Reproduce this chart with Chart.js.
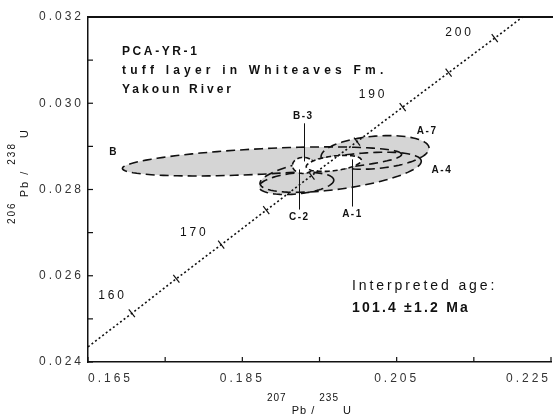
<!DOCTYPE html>
<html>
<head>
<meta charset="utf-8">
<script src="https://cdn.jsdelivr.net/npm/chart.js@4.4.0/dist/chart.umd.min.js"></script>
<style>
  html, body { margin: 0; padding: 0; background: #fff; overflow: hidden; }
  #wrap { width: 560px; height: 417px; }
</style>
</head>
<body>
<div id="wrap"><canvas id="c"></canvas></div>
<script>
// concordia (age in Ma, 207Pb/235U, 206Pb/238U)
const concAges = [155.1, 160, 165, 170, 175, 180, 185, 190, 195, 200, 203.0];
const concX = [0.1650, 0.17068, 0.17645, 0.18226, 0.18810, 0.19396, 0.19986, 0.20578, 0.21173, 0.21771, 0.22131];
const concY = [0.02435, 0.02513, 0.02593, 0.02672, 0.02752, 0.02832, 0.02911, 0.02991, 0.03071, 0.03151, 0.03200];
const tickAges = [160, 165, 170, 175, 180, 185, 190, 195, 200];
const labelAges = ['160', '170', '190', '200'];

// analysed spots: centre, half-widths, error correlation
const spotNames = ['B', 'A-7', 'A-4', 'C-2', 'B-3', 'A-1'];
const spotX   = [0.18755, 0.20220, 0.19774, 0.19201, 0.19290, 0.19685];
const spotY   = [0.028651, 0.028860, 0.028400, 0.028140, 0.028558, 0.028605];
const spotSx  = [0.01809, 0.00700, 0.01045, 0.00484, 0.00140, 0.00357];
const spotSy  = [0.000337, 0.000390, 0.000465, 0.000256, 0.000186, 0.000186];
const spotRho = [0.48, 0.25, 0.55, 0.30, 0.0, 0.40];

// axes
const xTicks = [0.165, 0.175, 0.185, 0.195, 0.205, 0.215, 0.225];
const xTickLabels = ['0.165', '', '0.185', '', '0.205', '', '0.225'];
const yTicks = [0.024, 0.025, 0.026, 0.027, 0.028, 0.029, 0.030, 0.031, 0.032];
const yTickLabels = ['0.024', '', '0.026', '', '0.028', '', '0.030', '', '0.032'];

const whiteSpots = ['B-3', 'A-1'];
const ageLabelPos = { '160': [0.16818, 0.025535], '170': [0.17876, 0.0270], '190': [0.20194, 0.030209], '200': [0.21315, 0.031628] };
const spotLabelPos = { 'B': [0.16831, 0.02886], 'B-3': [0.19290, 0.029698], 'A-7': [0.20895, 0.029349],
                       'A-4': [0.21086, 0.028442], 'A-1': [0.19927, 0.027419], 'C-2': [0.19239, 0.027349] };
const leaders = [[0.19303, 0.029535, 0.028651], [0.19927, 0.028698, 0.027605], [0.19239, 0.028465, 0.027535]];

function txt(ctx, s, x, y, font, sp, align) {
  ctx.font = font;
  ctx.letterSpacing = sp + 'px';
  ctx.textAlign = align || 'left';
  ctx.fillText(s, x, y);
  return ctx.measureText(s).width;
}

function ellipsePath(ctx, xs, ys, i) {
  const r = spotRho[i], q = Math.sqrt(1 - r * r);
  ctx.beginPath();
  for (let k = 0; k <= 96; k++) {
    const t = k / 96 * 2 * Math.PI;
    const px = xs.getPixelForValue(spotX[i] + spotSx[i] * Math.cos(t));
    const py = ys.getPixelForValue(spotY[i] + spotSy[i] * (r * Math.cos(t) + q * Math.sin(t)));
    if (k) ctx.lineTo(px, py); else ctx.moveTo(px, py);
  }
  ctx.closePath();
}

const concordiaPlugin = {
  id: 'concordia',
  beforeDraw(chart) {
    chart.ctx.letterSpacing = '3px';
  },
  beforeDatasetsDraw(chart) {
    const { ctx, scales: { x, y } } = chart;
    ctx.save();
    ctx.strokeStyle = '#111';
    ctx.lineWidth = 1.6;
    ctx.setLineDash([9, 5]);
    spotNames.forEach((n, i) => {
      if (whiteSpots.includes(n)) return;
      ellipsePath(ctx, x, y, i);
      ctx.fillStyle = '#d5d5d5';
      ctx.fill();
    });
    spotNames.forEach((n, i) => {
      if (whiteSpots.includes(n)) return;
      ellipsePath(ctx, x, y, i);
      ctx.stroke();
    });
    ctx.setLineDash([5, 3]);
    spotNames.forEach((n, i) => {
      if (!whiteSpots.includes(n)) return;
      ellipsePath(ctx, x, y, i);
      ctx.fillStyle = '#fff';
      ctx.fill();
      ctx.stroke();
    });
    ctx.restore();
  },
  afterDatasetsDraw(chart) {
    const { ctx, chartArea: a, scales: { x, y } } = chart;
    ctx.save();
    ctx.fillStyle = '#111';
    ctx.strokeStyle = '#111';

    // age ticks across the concordia
    ctx.lineWidth = 1.2;
    tickAges.forEach(t => {
      const j = concAges.indexOf(t);
      const px = x.getPixelForValue(concX[j]), py = y.getPixelForValue(concY[j]);
      const dx = x.getPixelForValue(concX[j + 1]) - x.getPixelForValue(concX[j - 1]);
      const dy = y.getPixelForValue(concY[j + 1]) - y.getPixelForValue(concY[j - 1]);
      const L = Math.hypot(dx, dy), nx = -dy / L, ny = dx / L;
      ctx.beginPath();
      ctx.moveTo(px - nx * 5, py - ny * 5);
      ctx.lineTo(px + nx * 5, py + ny * 5);
      ctx.stroke();
    });
    ctx.textBaseline = 'middle';
    labelAges.forEach(s => {
      const p = ageLabelPos[s];
      txt(ctx, s, x.getPixelForValue(p[0]), y.getPixelForValue(p[1]), '12px "Liberation Sans"', 2.8, 'center');
    });

    // spot labels and leaders
    ctx.lineWidth = 1;
    leaders.forEach(l => {
      const px = Math.round(x.getPixelForValue(l[0])) + 0.5;
      ctx.beginPath();
      ctx.moveTo(px, y.getPixelForValue(l[1]));
      ctx.lineTo(px, y.getPixelForValue(l[2]));
      ctx.stroke();
    });
    spotNames.forEach(n => {
      const p = spotLabelPos[n];
      txt(ctx, n, x.getPixelForValue(p[0]), y.getPixelForValue(p[1]), 'bold 10px "Liberation Sans"', 1.5, 'center');
    });

    // inward tick marks and frame
    ctx.lineWidth = 1.2;
    xTicks.forEach(v => {
      const px = x.getPixelForValue(v);
      ctx.beginPath(); ctx.moveTo(px, a.bottom); ctx.lineTo(px, a.bottom - 5); ctx.stroke();
    });
    yTicks.forEach(v => {
      const py = y.getPixelForValue(v);
      ctx.beginPath(); ctx.moveTo(a.left, py); ctx.lineTo(a.left + 5, py); ctx.stroke();
    });
    ctx.lineWidth = 2;
    ctx.beginPath(); ctx.moveTo(a.left - 1, a.top); ctx.lineTo(a.right + 2, a.top); ctx.stroke();

    // sample text
    ctx.textBaseline = 'alphabetic';
    txt(ctx, 'PCA-YR-1', a.left + 34, a.top + 38, 'bold 12px "Liberation Sans"', 2.6);
    txt(ctx, 'tuff layer in Whiteaves Fm.', a.left + 34, a.top + 57, 'bold 12px "Liberation Sans"', 4.2);
    txt(ctx, 'Yakoun River', a.left + 34, a.top + 76, 'bold 12px "Liberation Sans"', 3.0);
    txt(ctx, 'Interpreted age:', a.left + 264, a.top + 273, '14px "Liberation Sans"', 2.9);
    txt(ctx, '101.4 \u00b11.2 Ma', a.left + 264, a.top + 295, 'bold 14px "Liberation Sans"', 2.2);

    // x axis title
    let cx = 267;
    cx += txt(ctx, '207', cx, 401, '10px "Liberation Sans"', 1) + 5;
    cx += txt(ctx, 'Pb / ', cx, 414, '11px "Liberation Sans"', 1);
    cx += txt(ctx, '235', cx, 401, '10px "Liberation Sans"', 1) + 4;
    txt(ctx, 'U', cx, 414, '11px "Liberation Sans"', 1);

    // y axis title (rotated)
    ctx.translate(25, 180);
    ctx.rotate(-Math.PI / 2);
    let cy = -44;
    cy += txt(ctx, '206', cy, -10, '10px "Liberation Sans"', 2) + 4;
    cy += txt(ctx, 'Pb / ', cy, 3, '11px "Liberation Sans"', 2);
    cy += txt(ctx, '238', cy, -10, '10px "Liberation Sans"', 2) + 4;
    txt(ctx, 'U', cy, 3, '11px "Liberation Sans"', 2);
    ctx.restore();
  }
};

new Chart(document.getElementById('c'), {
  type: 'scatter',
  data: {
    datasets: [{
      data: concX.map((v, i) => ({ x: v, y: concY[i] })),
      showLine: true,
      borderColor: '#111',
      borderWidth: 1.6,
      borderDash: [2, 2.5],
      pointRadius: 0,
      fill: false
    }]
  },
  options: {
    responsive: true,
    maintainAspectRatio: false,
    animation: false,
    events: [],
    layout: { padding: { top: 17, right: 1, left: 0, bottom: 0 } },
    plugins: { legend: { display: false }, tooltip: { enabled: false } },
    scales: {
      x: {
        type: 'linear', min: 0.165, max: 0.225,
        afterBuildTicks: s => { s.ticks = xTicks.map(v => ({ value: v })); },
        afterFit: s => { s.height = 55; },
        grid: { display: false, drawTicks: false },
        border: { display: true, color: '#111', width: 1.5 },
        ticks: {
          align: 'inner', padding: 9, color: '#333', maxRotation: 0, autoSkip: false,
          font: { family: 'Liberation Sans', size: 12 },
          callback: (v, i) => xTickLabels[i]
        }
      },
      y: {
        type: 'linear', min: 0.024, max: 0.032,
        afterBuildTicks: s => { s.ticks = yTicks.map(v => ({ value: v })); },
        afterFit: s => { s.width = 88; },
        grid: { display: false, drawTicks: false },
        border: { display: true, color: '#111', width: 1.5 },
        ticks: {
          padding: 4, color: '#333', autoSkip: false,
          font: { family: 'Liberation Sans', size: 12 },
          callback: (v, i) => yTickLabels[i]
        }
      }
    }
  },
  plugins: [concordiaPlugin]
});
</script>
</body>
</html>
